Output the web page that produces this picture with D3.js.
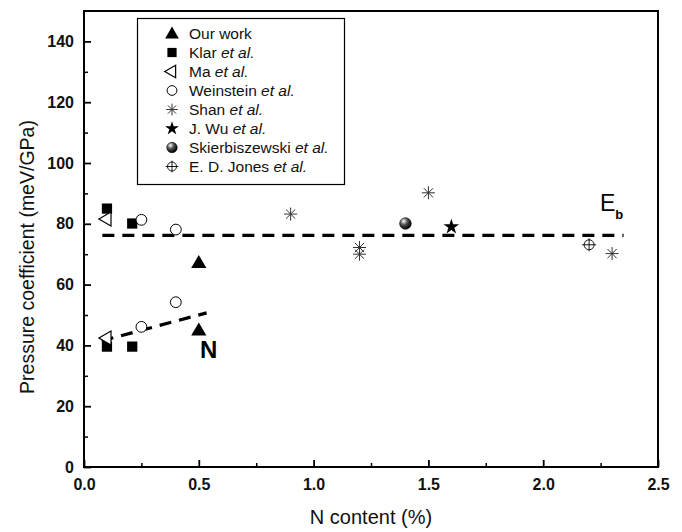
<!DOCTYPE html>
<html>
<head>
<meta charset="utf-8">
<script src="https://cdn.jsdelivr.net/npm/d3@7"></script>
<style>
  body { margin: 0; background: #fff; }
  svg { font-family: "Liberation Sans", Arial, sans-serif; }
</style>
</head>
<body>
<svg id="plot" width="682" height="532"></svg>
<script>
// data
const ourWorkX = [0.5, 0.5];
const ourWorkY = [67.2, 45.0];
const klarX = [0.1, 0.1, 0.21, 0.21];
const klarY = [85.0, 39.6, 80.1, 39.6];
const maX = [0.1, 0.1];
const maY = [81.6, 42.4];
const weinsteinX = [0.25, 0.25, 0.4, 0.4];
const weinsteinY = [81.3, 46.1, 78.1, 54.2];
const shanX = [0.9, 1.2, 1.2, 1.5, 2.3];
const shanY = [83.2, 72.2, 70.0, 90.2, 70.2];
const wuX = [1.6];
const wuY = [79.0];
const skierX = [1.4];
const skierY = [80.1];
const jonesX = [2.2];
const jonesY = [73.1];

const ebLineX = [0.08, 2.35];
const ebLineY = [76.2, 76.2];
const nLineX = [0.077, 0.534];
const nLineY = [41.5, 50.7];

const xTicks = [0, 0.5, 1.0, 1.5, 2.0, 2.5];
const xMinor = [0.25, 0.75, 1.25, 1.75, 2.25];
const yTicks = [0, 20, 40, 60, 80, 100, 120, 140];
const yMinor = [10, 30, 50, 70, 90, 110, 130];

const legendNames = [
  ["Our work", ""],
  ["Klar ", "et al."],
  ["Ma ", "et al."],
  ["Weinstein ", "et al."],
  ["Shan ", "et al."],
  ["J. Wu ", "et al."],
  ["Skierbiszewski ", "et al."],
  ["E. D. Jones ", "et al."]
];
const legendKeys = ["tri", "square", "left", "circle", "ast", "star", "sphere", "jones"];

const margin = { top: 11, right: 24, bottom: 65, left: 84 };
const width = 682, height = 532;

const svg = d3.select("#plot");

const x = d3.scaleLinear().domain([0, 2.5]).range([margin.left, width - margin.right]);
const y = d3.scaleLinear().domain([0, 150]).range([height - margin.bottom, margin.top]);

const defs = svg.append("defs");
const grad = defs.append("radialGradient")
  .attr("id", "ball").attr("cx", "35%").attr("cy", "30%").attr("r", "70%");
grad.append("stop").attr("offset", "0%").attr("stop-color", "#fff");
grad.append("stop").attr("offset", "45%").attr("stop-color", "#555");
grad.append("stop").attr("offset", "100%").attr("stop-color", "#000");

// marker drawing
function asteriskPath(r) {
  let p = "";
  for (let a = 0; a < 180; a += 45) {
    const t = a * Math.PI / 180;
    p += `M${-r * Math.cos(t)},${-r * Math.sin(t)}L${r * Math.cos(t)},${r * Math.sin(t)}`;
  }
  return p;
}

function drawMarker(g, key, s) {
  const k = s || 1;
  if (key === "tri") {
    g.append("path").attr("d", d3.symbol(d3.symbolTriangle, 100 * k * k)()).attr("fill", "#000")
      .attr("transform", "translate(0,1)");
  } else if (key === "square") {
    g.append("path").attr("d", d3.symbol(d3.symbolSquare, 105 * k * k)()).attr("fill", "#000");
  } else if (key === "left") {
    g.append("path").attr("d", d3.symbol(d3.symbolTriangle, 85 * k * k)())
      .attr("fill", "#fff").attr("stroke", "#000").attr("stroke-width", 1.2)
      .attr("transform", "rotate(-90)");
  } else if (key === "circle") {
    g.append("circle").attr("r", 5.4 * k).attr("fill", "#fff").attr("stroke", "#000").attr("stroke-width", 1);
  } else if (key === "ast") {
    g.append("path").attr("d", asteriskPath(6.5 * k)).attr("stroke", "#333").attr("stroke-width", 1).attr("fill", "none");
  } else if (key === "star") {
    g.append("path").attr("d", d3.symbol(d3.symbolStar, 75 * k * k)()).attr("fill", "#000");
  } else if (key === "sphere") {
    g.append("circle").attr("r", 5.8 * k).attr("fill", "url(#ball)").attr("stroke", "#000").attr("stroke-width", 0.6);
  } else if (key === "jones") {
    g.append("circle").attr("r", 5 * k).attr("fill", "#fff").attr("stroke", "#000").attr("stroke-width", 0.9);
    g.append("path").attr("d", `M${-7 * k},0L${7 * k},0M0,${-6.5 * k}L0,${6.5 * k}`).attr("stroke", "#000").attr("stroke-width", 0.9);
  }
}

function plotSeries(xs, ys, key) {
  xs.forEach((v, i) => {
    const g = svg.append("g").attr("transform", `translate(${x(v)},${y(ys[i])})`);
    drawMarker(g, key, 1);
  });
}

// dashed guide lines
const line = d3.line().x(d => x(d[0])).y(d => y(d[1]));
svg.append("path")
  .attr("d", line(ebLineX.map((v, i) => [v, ebLineY[i]])))
  .attr("stroke", "#000").attr("stroke-width", 3.2).attr("stroke-dasharray", "12,8").attr("fill", "none");
svg.append("path")
  .attr("d", line(nLineX.map((v, i) => [v, nLineY[i]])))
  .attr("stroke", "#000").attr("stroke-width", 3.2).attr("stroke-dasharray", "12,8").attr("fill", "none");

plotSeries(ourWorkX, ourWorkY, "tri");
plotSeries(klarX, klarY, "square");
plotSeries(maX, maY, "left");
plotSeries(weinsteinX, weinsteinY, "circle");
plotSeries(shanX, shanY, "ast");
plotSeries(wuX, wuY, "star");
plotSeries(skierX, skierY, "sphere");
plotSeries(jonesX, jonesY, "jones");

// frame
svg.append("rect")
  .attr("x", x(0)).attr("y", y(150))
  .attr("width", x(2.5) - x(0)).attr("height", y(0) - y(150))
  .attr("fill", "none").attr("stroke", "#000").attr("stroke-width", 2);

// axes, ticks pointing inward
const xAxis = d3.axisBottom(x).tickValues(xTicks).tickSize(-7).tickPadding(12)
  .tickFormat(d3.format(".1f"));
const gx = svg.append("g").attr("transform", `translate(0,${y(0)})`).call(xAxis);
gx.select(".domain").remove();
gx.selectAll(".tick line").attr("stroke-width", 1.8);
gx.selectAll(".tick text").attr("font-size", 16).attr("font-weight", "bold").attr("fill", "#111");

const xAxisMinor = d3.axisBottom(x).tickValues(xMinor).tickSize(-4).tickFormat("");
const gxm = svg.append("g").attr("transform", `translate(0,${y(0)})`).call(xAxisMinor);
gxm.select(".domain").remove();
gxm.selectAll(".tick line").attr("stroke-width", 1.5);

const yAxis = d3.axisLeft(y).tickValues(yTicks).tickSize(-7).tickPadding(10);
const gy = svg.append("g").attr("transform", `translate(${x(0)},0)`).call(yAxis);
gy.select(".domain").remove();
gy.selectAll(".tick line").attr("stroke-width", 1.8);
gy.selectAll(".tick text").attr("font-size", 16).attr("font-weight", "bold").attr("fill", "#111");

const yAxisMinor = d3.axisLeft(y).tickValues(yMinor).tickSize(-4).tickFormat("");
const gym = svg.append("g").attr("transform", `translate(${x(0)},0)`).call(yAxisMinor);
gym.select(".domain").remove();
gym.selectAll(".tick line").attr("stroke-width", 1.5);

// axis titles
svg.append("text")
  .attr("x", (x(0) + x(2.5)) / 2).attr("y", 524)
  .attr("text-anchor", "middle").attr("font-size", 20).attr("fill", "#111")
  .text("N content (%)");
svg.append("text")
  .attr("transform", `translate(34,${(y(0) + y(150)) / 2 + 18}) rotate(-90)`)
  .attr("text-anchor", "middle").attr("font-size", 19.5).attr("fill", "#111")
  .text("Pressure coefficient (meV/GPa)");

// line labels
svg.append("text").attr("x", 600).attr("y", 211).attr("font-size", 23).text("E")
  .append("tspan").attr("dy", 8).attr("font-size", 13).attr("font-weight", "bold").text("b");
svg.append("text").attr("x", 200).attr("y", 358).attr("font-size", 24).attr("font-weight", "bold").text("N");

// legend
const legend = svg.append("g");
legend.append("rect")
  .attr("x", 137.5).attr("y", 18.5).attr("width", 207).attr("height", 166)
  .attr("fill", "#fff").attr("stroke", "#000").attr("stroke-width", 1.2);

legendKeys.forEach((key, i) => {
  const cy = 33.5 + i * 19;
  const g = legend.append("g").attr("transform", `translate(172,${cy})`);
  drawMarker(g, key, 0.9);
  const t = legend.append("text").attr("x", 189).attr("y", cy + 5.5).attr("font-size", 15.5).attr("fill", "#111");
  t.append("tspan").text(legendNames[i][0]);
  if (legendNames[i][1]) t.append("tspan").attr("font-style", "italic").text(legendNames[i][1]);
});
</script>
</body>
</html>
